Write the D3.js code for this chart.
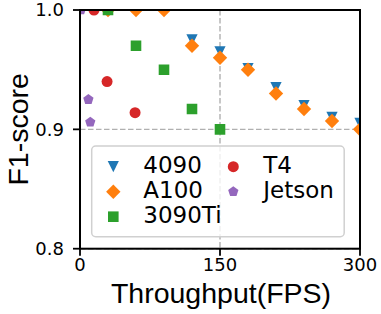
<!DOCTYPE html>
<html>
<head>
<meta charset="utf-8">
<script src="https://cdn.jsdelivr.net/npm/d3@7"></script>
<style>
  html, body { margin: 0; padding: 0; background: #fff; }
  svg { display: block; }
</style>
</head>
<body>
<div id="chart"></div>
<script>
// 数据
var seriesNames = ["4090", "A100", "3090Ti", "T4", "Jetson"];
var seriesColors = ["#1f77b4", "#ff7f0e", "#2ca02c", "#d62728", "#9467bd"];
var seriesShapes = ["triangleDown", "diamond", "square", "circle", "pentagon"];

var fps4090 = [30, 60, 90, 120, 150, 180, 210, 240, 270, 300];
var f14090 = [1.0, 1.0, 1.0, 0.975, 0.965, 0.951, 0.935, 0.92, 0.91, 0.905];
var fpsA100 = [30, 60, 90, 120, 150, 180, 210, 240, 270, 300];
var f1A100 = [1.0, 1.0, 1.0, 0.97, 0.96, 0.95, 0.93, 0.917, 0.907, 0.9];
var fps3090 = [30, 60, 90, 120, 150];
var f13090 = [1.0, 0.97, 0.95, 0.917, 0.9];
var fpsT4 = [15, 29, 59];
var f1T4 = [1.0, 0.94, 0.914];
var fpsJetson = [1, 9, 11];
var f1Jetson = [1.0, 0.925, 0.906];

var xTicks = [0, 150, 300];
var yTicks = [0.8, 0.9, 1.0];

var allFps = [fps4090, fpsA100, fps3090, fpsT4, fpsJetson];
var allF1 = [f14090, f1A100, f13090, f1T4, f1Jetson];

var W = 381, H = 314;
var plotLeft = 80, plotRight = 360, plotTop = 10, plotBottom = 248.7;

var svg = d3.select("#chart").append("svg")
    .attr("width", W).attr("height", H);

var x = d3.scaleLinear().domain([0, 300]).range([plotLeft, plotRight]);
var y = d3.scaleLinear().domain([0.8, 1.0]).range([plotBottom, plotTop]);

// 形状
function shapePath(kind){
    var p = d3.path();
    if(kind === "triangleDown"){
        var s = 5.6;
        p.moveTo(-s, -s); p.lineTo(s, -s); p.lineTo(0, s); p.closePath();
    }else if(kind === "diamond"){
        var d = 7.2;
        p.moveTo(0, -d); p.lineTo(d, 0); p.lineTo(0, d); p.lineTo(-d, 0); p.closePath();
    }else if(kind === "square"){
        var h = 5.3;
        p.rect(-h, -h, 2*h, 2*h);
    }else if(kind === "circle"){
        p.arc(0, 0, 5.5, 0, 2*Math.PI);
    }else if(kind === "pentagon"){
        var r = 5.4;
        for(var k=0;k<5;k++){
            var a = -Math.PI/2 + k*2*Math.PI/5;
            if(k===0) p.moveTo(r*Math.cos(a), r*Math.sin(a));
            else p.lineTo(r*Math.cos(a), r*Math.sin(a));
        }
        p.closePath();
    }
    return p.toString();
}

svg.append("clipPath").attr("id", "plotclip")
    .append("rect").attr("x", plotLeft).attr("y", plotTop)
    .attr("width", plotRight-plotLeft).attr("height", plotBottom-plotTop);

// 网格
var grid = svg.append("g")
    .attr("stroke", "#b0b0b0").attr("stroke-width", 1.4)
    .attr("stroke-dasharray", "5.5,2.5");
grid.selectAll("line.gy").data(yTicks).enter().append("line")
    .attr("x1", plotLeft).attr("x2", plotRight)
    .attr("y1", function(d){ return y(d); }).attr("y2", function(d){ return y(d); });
grid.selectAll("line.gx").data(xTicks).enter().append("line")
    .attr("y1", plotTop).attr("y2", plotBottom)
    .attr("x1", function(d){ return x(d); }).attr("x2", function(d){ return x(d); });

// 散点
var plot = svg.append("g").attr("clip-path", "url(#plotclip)");
for(var i=0;i<seriesNames.length;i++){
    var pts = allFps[i].map(function(v, j){ return [v, allF1[i][j]]; });
    plot.append("g").selectAll("path").data(pts).enter().append("path")
        .attr("d", shapePath(seriesShapes[i]))
        .attr("fill", seriesColors[i])
        .attr("transform", function(d){ return "translate(" + x(d[0]) + "," + y(d[1]) + ")"; });
}

// 坐标轴
var tickFont = "'DejaVu Sans', sans-serif";
var axes = svg.append("g");
axes.selectAll("line.ty").data(yTicks).enter().append("line")
    .attr("x1", plotLeft-7).attr("x2", plotLeft)
    .attr("y1", function(d){ return y(d); }).attr("y2", function(d){ return y(d); })
    .attr("stroke", "#000").attr("stroke-width", 1.8);
axes.selectAll("text.ty").data(yTicks).enter().append("text")
    .attr("x", 64).attr("y", function(d){ return y(d) + 6.4; })
    .attr("text-anchor", "end")
    .style("font-family", tickFont).style("font-size", "18px")
    .text(function(d){ return d.toFixed(1); });
axes.selectAll("line.tx").data(xTicks).enter().append("line")
    .attr("y1", plotBottom).attr("y2", plotBottom+7)
    .attr("x1", function(d){ return x(d); }).attr("x2", function(d){ return x(d); })
    .attr("stroke", "#000").attr("stroke-width", 1.8);
axes.selectAll("text.tx").data(xTicks).enter().append("text")
    .attr("x", function(d){ return x(d); }).attr("y", 270.5)
    .attr("text-anchor", "middle")
    .style("font-family", tickFont).style("font-size", "18px")
    .text(function(d){ return d; });

svg.append("rect")
    .attr("x", plotLeft).attr("y", plotTop)
    .attr("width", plotRight-plotLeft).attr("height", plotBottom-plotTop)
    .attr("fill", "none").attr("stroke", "#000").attr("stroke-width", 2);

var labelFont = "'Liberation Sans', Arial, sans-serif";
svg.append("text")
    .attr("x", (plotLeft+plotRight)/2 + 1).attr("y", 303)
    .attr("text-anchor", "middle")
    .style("font-family", labelFont).style("font-size", "28.5px")
    .text("Throughput(FPS)");
svg.append("text")
    .attr("transform", "translate(28," + ((plotTop+plotBottom)/2) + ") rotate(-90)")
    .attr("text-anchor", "middle")
    .style("font-family", labelFont).style("font-size", "28.5px")
    .text("F1-score");

// 图例
var legend = svg.append("g");
legend.append("rect")
    .attr("x", 91.7).attr("y", 146).attr("width", 252.5).attr("height", 90.7)
    .attr("rx", 4).attr("ry", 4)
    .attr("fill", "#fff").attr("fill-opacity", 0.8)
    .attr("stroke", "#d0d0d0").attr("stroke-width", 1.5);
var colMarkerX = [113.3, 233.3];
var colTextX = [143.3, 263.3];
var rowY = [166.7, 191.7, 216.7];
for(var n=0;n<seriesNames.length;n++){
    var col = n < 3 ? 0 : 1;
    var row = n < 3 ? n : n-3;
    legend.append("path")
        .attr("d", shapePath(seriesShapes[n]))
        .attr("fill", seriesColors[n])
        .attr("transform", "translate(" + colMarkerX[col] + "," + rowY[row] + ")");
    legend.append("text")
        .attr("x", colTextX[col]).attr("y", rowY[row] + 6.6)
        .style("font-family", tickFont).style("font-size", "23px")
        .text(seriesNames[n]);
}
</script>
</body>
</html>
